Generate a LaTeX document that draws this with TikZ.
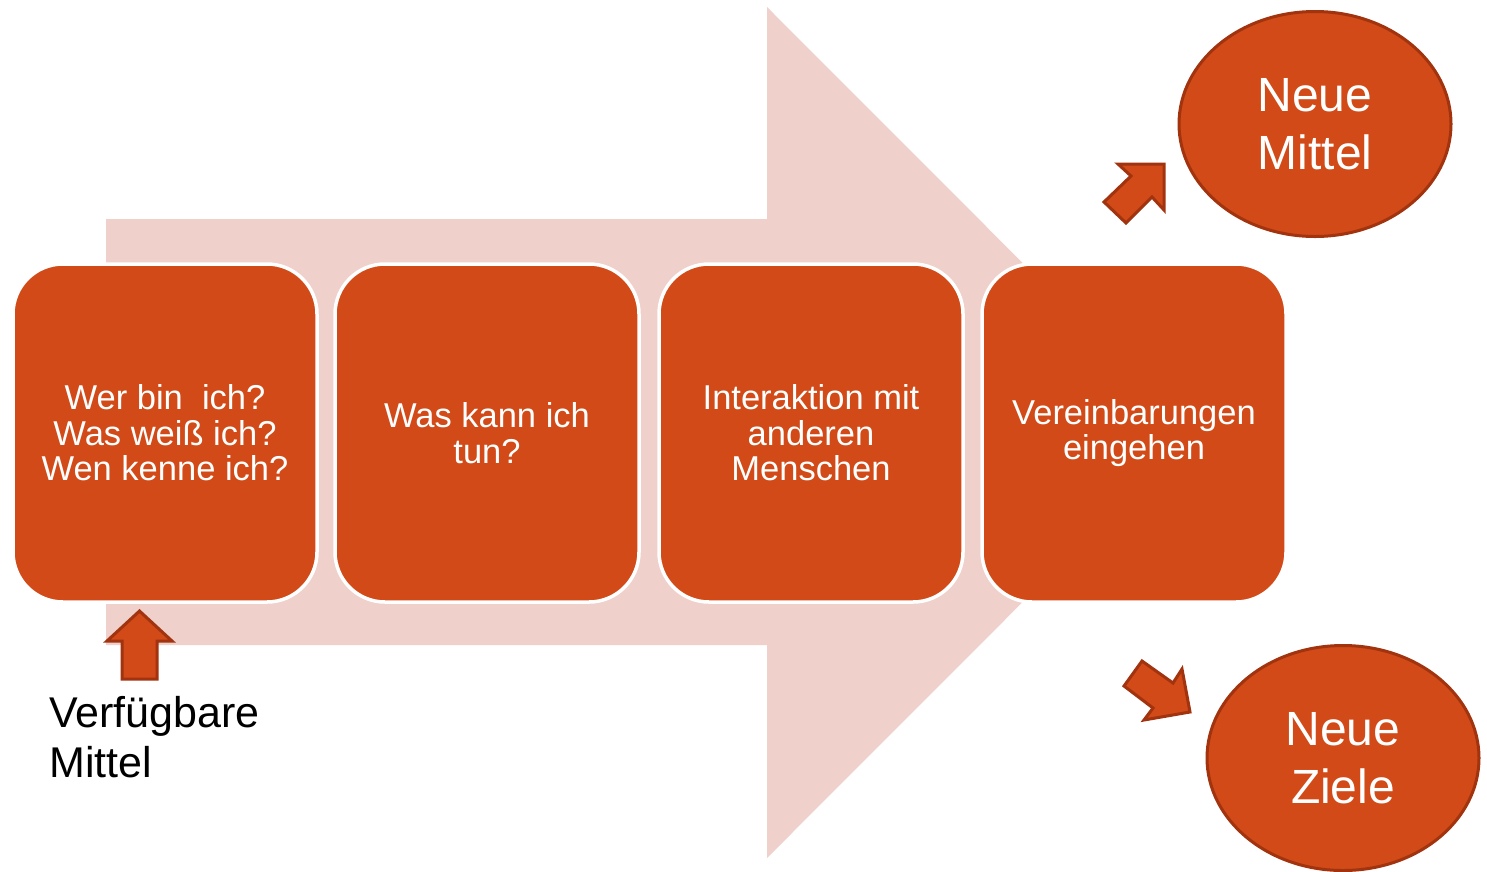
\documentclass[tikz,border=0pt]{standalone}
\usepackage{fontspec}
\setmainfont{Liberation Sans}
\usetikzlibrary{shapes.geometric}
\definecolor{rust}{HTML}{D14A17}
\definecolor{rustdark}{HTML}{A1330E}
\definecolor{blush}{HTML}{EFD0CB}
\tikzset{
  stepbox/.style={draw=white, line width=3.5pt, fill=rust, rounded corners=50pt,
    minimum width=304pt, minimum height=338pt, text=white, align=center,
    font=\fontsize{34.5}{35.5}\selectfont, inner sep=0pt},
  goal/.style={ellipse, draw=rustdark, line width=3pt, fill=rust,
    minimum width=272pt, minimum height=225pt, text=white, align=center,
    font=\fontsize{48}{58}\selectfont, inner sep=0pt},
  smallarrow/.style={fill=rust, draw=rustdark, line width=3pt, line join=miter}
}
\begin{document}
\begin{tikzpicture}[x=1pt,y=-1pt]
\useasboundingbox (0,0) rectangle (1487,871);
% big background arrow
\fill[blush] (106,219) -- (767,219) -- (767,7) -- (1192,432.5) -- (767,858) -- (767,645) -- (106,645) -- cycle;
% process boxes
\node[stepbox] (b1) at (165,433) {Wer bin\ \ ich?\\Was weiß ich?\\Wen kenne ich?};
\node[stepbox] (b2) at (487,433) {Was kann ich\\tun?};
\node[stepbox] (b3) at (811,433) {Interaktion mit\\anderen\\Menschen};
\node[stepbox] (b4) at (1134,433) {Vereinbarungen\\eingehen};
% goals
\node[goal] (g1) at (1315,124) {Neue\\Mittel};
\node[goal] (g2) at (1343,758) {Neue\\Ziele};
% small arrows
\draw[smallarrow] (139.5,611) -- (172,641) -- (157,641) -- (157,679) -- (122,679) -- (122,641) -- (107,641) -- cycle;
\draw[smallarrow] (1118,164) -- (1164,164) -- (1164,210) -- (1152,197) -- (1126,223) -- (1104,202) -- (1131,176) -- cycle;
\draw[smallarrow] (1142,661) -- (1173,683) -- (1182,669) -- (1190,712) -- (1144,720) -- (1153,708) -- (1124,686) -- cycle;
% label
\node[anchor=west, align=left, font=\fontsize{43}{50}\selectfont, inner sep=0pt] (lbl) at (49,737) {Verfügbare\\Mittel};
\end{tikzpicture}
\end{document}
